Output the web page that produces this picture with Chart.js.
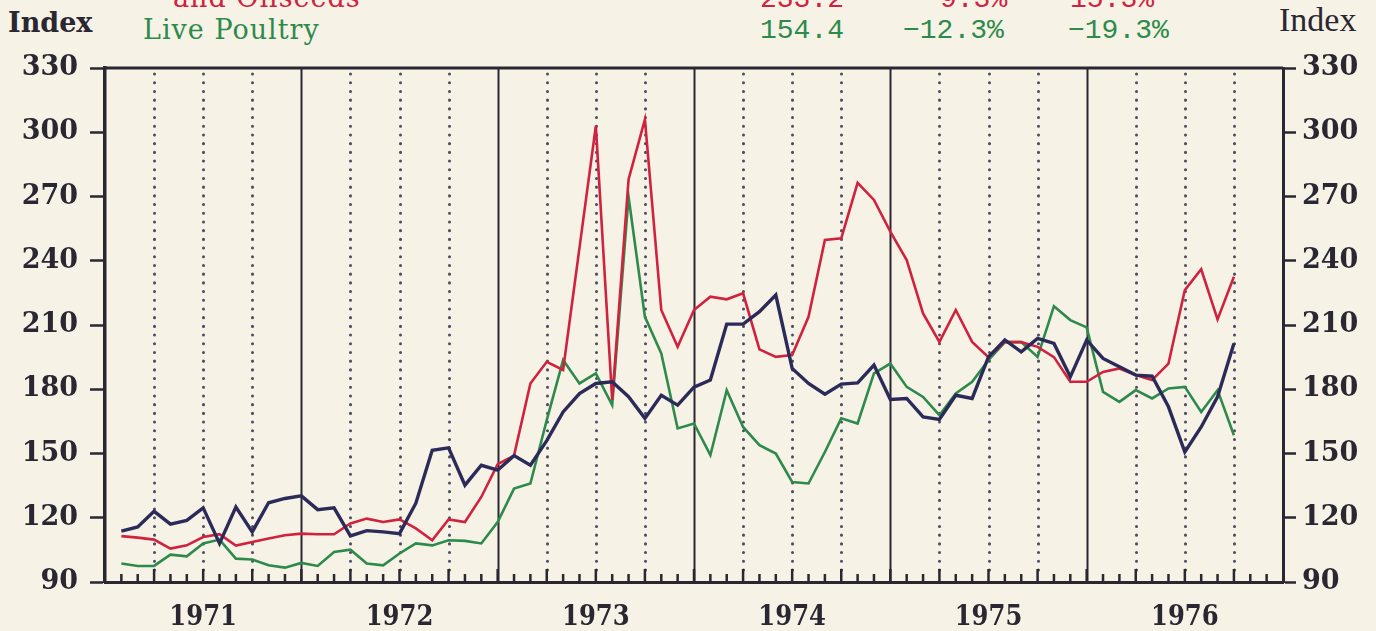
<!DOCTYPE html>
<html>
<head>
<meta charset="utf-8">
<script src="https://cdn.jsdelivr.net/npm/chart.js@4.4.1/dist/chart.umd.min.js"></script>
<style>
  body { margin:0; background:#f6f3e6; overflow:hidden; }
  #wrap { position:relative; width:1376px; height:631px; }
  .t { position:absolute; white-space:nowrap; line-height:1; }
  .idx { font-family:'DejaVu Serif',serif; font-weight:bold; font-size:27px; color:#2a2632; }
  .lab { font-family:'DejaVu Serif',serif; font-size:27px; letter-spacing:1px; }
  .num { font-family:'Liberation Mono',monospace; font-size:28px; }
  .red { color:#d0223f; }
  .grn { color:#2e8a4c; }
</style>
</head>
<body>
<div id="wrap">
  <div class="t idx" style="left:8px;top:9px;">Index</div>
  <div class="t" style="left:1279px;top:3px;font-family:'Liberation Serif',serif;font-size:34px;color:#2a2632;">Index</div>
  <div class="t lab red" style="left:173px;top:-16px;">and Oilseeds</div>
  <div class="t lab grn" style="left:143px;top:16px;">Live Poultry</div>
  <div class="t num red" style="left:760px;top:-14px;">233.2</div>
  <div class="t num red" style="left:940px;top:-14px;">9.3%</div>
  <div class="t num red" style="left:1070px;top:-14px;">15.3%</div>
  <div class="t num grn" style="left:760px;top:17px;">154.4</div>
  <div class="t num grn" style="left:903px;top:17px;">&minus;12.3%</div>
  <div class="t num grn" style="left:1068px;top:17px;">&minus;19.3%</div>
  <canvas id="myChart" width="1376" height="631" style="position:absolute;left:0;top:0;"></canvas>
</div>
<script>
// monthly index values, first point sits one month after the left axis
var years = ['1971','1972','1973','1974','1975','1976']
var firstMonth = 1

var grains = [111.4,110.7,109.8,105.6,107.1,111,112.3,107,108.7,110.3,111.8,112.6,
  112.3,112.3,117.3,119.6,118,119.2,115,109.5,119.2,118,129.7,145,
  149,182.7,192.8,189,246,303,175,278,306,217,199.8,217,
  223.2,222,224.8,198.6,195.1,196,213.8,249.7,250.5,276.4,268.4,253.6,
  240.3,215.4,202.1,217,202.1,195,202,202,199.8,195,183.5,183.5,
  188.1,189.7,186.6,184.3,192,226.3,236,212.6,232.5]

var poultry = [98.6,97.5,97.5,102.8,102,108,109.8,100.9,100.5,97.8,96.7,98.9,
  97.5,104,105.1,98.6,97.8,103.3,108,107.1,109.5,109.2,108,118,
  133.6,136,165.6,193.6,182.7,187.4,172.6,269.9,213.8,196.7,161.7,164,
  149.2,179.6,162.4,153.9,150,136.7,136,150.7,166.4,164,187.4,192,
  181.1,176.4,167.9,178,183.5,193.6,202,202,195.1,218.8,212.3,208.9,
  178.8,174.1,179.6,175.7,180.4,181.1,169.4,179.6,158.5]

var allfarm = [113.8,115.7,123,117,118.8,124.6,108,125,113.4,127,129,130.2,
  123.8,124.6,111.5,114,113.4,112.6,126.8,151.5,152.6,135.2,144.5,142.2,
  149,144.5,156,169.4,178,182.7,183.5,176.5,166.4,177.2,172.6,181,
  184.3,210.4,210.4,216.2,224,189.7,182.7,177.7,182.4,183,191.3,175.2,
  175.7,167.1,165.9,177.2,175.7,195.1,203,197.5,203.7,201.4,185.8,203,
  194.4,190.5,186.6,186.1,171.8,150.7,162.4,176.5,201.4]

function pts(arr){
  var out=[]
  for (var i=0;i<arr.length;i++){ out.push({x:firstMonth+i, y:arr[i]}) }
  return out
}

var ink = '#2a2632'
var tickFont = {family:"'DejaVu Serif',serif", weight:'bold', size:27}
var yearFont = {family:"'DejaVu Serif Condensed','DejaVu Serif',serif", weight:'bold', size:27}

// year lines, quarter dots and month ticks
var framePlugin = {
  id:'frame',
  beforeDatasetsDraw: function(chart){
    var ctx=chart.ctx, xs=chart.scales.x, a=chart.chartArea
    ctx.save()
    for (var m=3;m<72;m+=3){
      var px=Math.round(xs.getPixelForValue(m))+0.5
      ctx.beginPath()
      if (m%12==0){
        ctx.setLineDash([])
        ctx.lineWidth=2
        ctx.strokeStyle=ink
        ctx.moveTo(px,a.top); ctx.lineTo(px,a.bottom)
      } else {
        ctx.setLineDash([0.1,8.6])
        ctx.lineCap='round'
        ctx.lineWidth=3
        ctx.strokeStyle='#4b4a62'
        ctx.moveTo(px,a.top+6); ctx.lineTo(px,a.bottom-4)
      }
      ctx.stroke()
    }
    ctx.setLineDash([])
    ctx.lineCap='butt'
    ctx.strokeStyle=ink
    ctx.lineWidth=2.5
    for (var m=1;m<72;m++){
      var px=xs.getPixelForValue(m)
      var h = (m%3==0) ? 13 : 8
      ctx.beginPath(); ctx.moveTo(px,a.bottom); ctx.lineTo(px,a.bottom-h); ctx.stroke()
    }
    ctx.lineWidth=3
    ctx.beginPath(); ctx.moveTo(a.left,a.top); ctx.lineTo(a.right,a.top); ctx.stroke()
    ctx.restore()
  }
}

var ctx = document.getElementById('myChart')
var myChart = new Chart(ctx, {
  type:'line',
  data:{
    datasets:[
      {label:'All farm products', data:pts(allfarm), borderColor:'#2b2a58', borderWidth:3.4, pointRadius:0, tension:0},
      {label:'Food grains, feeds, fats and oilseeds', data:pts(grains), borderColor:'#d0223f', borderWidth:2.6, pointRadius:0, tension:0},
      {label:'Live Poultry', data:pts(poultry), borderColor:'#2e8a4c', borderWidth:2.6, pointRadius:0, tension:0}
    ]
  },
  options:{
    responsive:false,
    animation:false,
    layout:{padding:{top:68, left:0, right:0, bottom:0}},
    plugins:{legend:{display:false}, tooltip:{enabled:false}},
    scales:{
      x:{
        type:'linear', min:0, max:72,
        grid:{display:false},
        border:{display:true, color:ink, width:3},
        afterBuildTicks:function(s){ s.ticks=years.map(function(y,i){return {value:6+12*i}}) },
        ticks:{color:ink, font:yearFont, padding:12, maxRotation:0, autoSkip:false,
          callback:function(v){ return years[(v-6)/12] }},
        afterFit:function(s){ s.height=49 }
      },
      y:{
        position:'left', min:90, max:330,
        grid:{drawOnChartArea:false, drawTicks:true, tickLength:15, tickWidth:2.5, tickColor:ink},
        border:{display:true, color:ink, width:3.5},
        ticks:{stepSize:30, color:ink, font:tickFont, padding:12},
        afterFit:function(s){ s.width=105 }
      },
      y2:{
        position:'right', min:90, max:330,
        grid:{drawOnChartArea:false, drawTicks:true, tickLength:13, tickWidth:2.5, tickColor:ink},
        border:{display:true, color:ink, width:3},
        ticks:{stepSize:30, color:ink, font:tickFont, padding:6},
        afterFit:function(s){ s.width=93 }
      }
    }
  },
  plugins:[framePlugin]
})
</script>
</body>
</html>
